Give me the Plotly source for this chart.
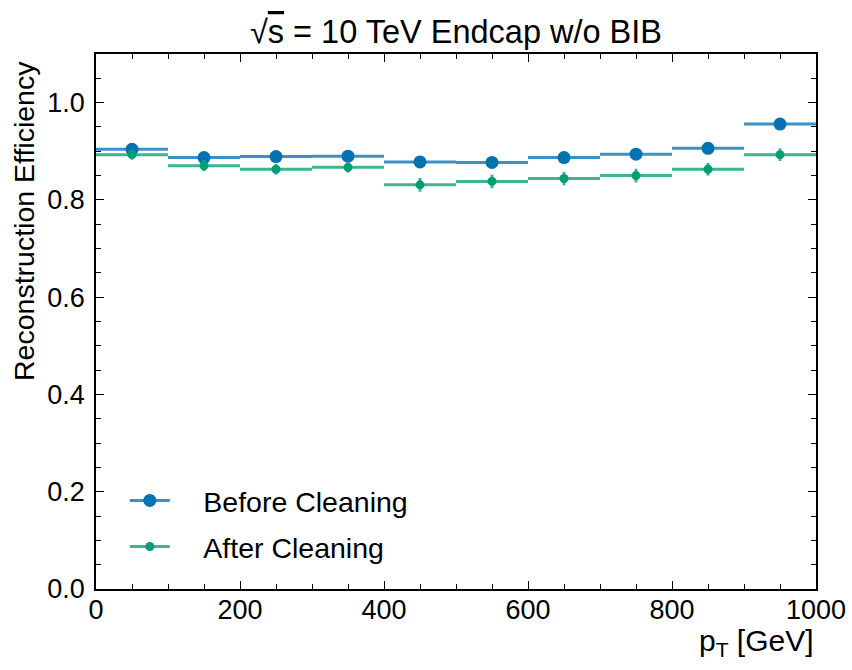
import plotly.graph_objects as go

# pT binning (GeV): bin centres and half-widths
pt_centres = [50, 150, 250, 350, 450, 550, 650, 750, 850, 950]
pt_halfwidth = [50] * 10

# Reconstruction efficiency per pT bin
eff_before = [0.904, 0.887, 0.889, 0.890, 0.878, 0.877, 0.887, 0.894, 0.906, 0.956]
err_before = [0.008, 0.008, 0.008, 0.008, 0.009, 0.009, 0.009, 0.009, 0.009, 0.008]
eff_after = [0.893, 0.870, 0.863, 0.867, 0.831, 0.838, 0.844, 0.850, 0.863, 0.893]
err_after = [0.010, 0.011, 0.011, 0.011, 0.014, 0.014, 0.014, 0.014, 0.013, 0.013]

series_names = ["Before Cleaning", "After Cleaning"]

BLUE = "#0173B2"
BLUE_BAR = "#3a90c8"
GREEN = "#029E73"
GREEN_BAR = "#3db58e"
FONT = "Liberation Sans, Arial, Helvetica, sans-serif"

fig = go.Figure()

for i, (name, y, ey, col, barcol, msize) in enumerate([
    (series_names[0], eff_before, err_before, BLUE, BLUE_BAR, 13),
    (series_names[1], eff_after, err_after, GREEN, GREEN_BAR, 9),
]):
    fig.add_trace(go.Scatter(
        x=pt_centres, y=y, mode="markers", showlegend=False,
        marker=dict(color=col, size=msize, line=dict(width=0)),
        error_x=dict(type="data", array=pt_halfwidth, color=barcol, thickness=3, width=0),
        error_y=dict(type="data", array=ey, color=barcol, thickness=3, width=0),
    ))
    # legend entry (em space widens the gap between symbol and label)
    fig.add_trace(go.Scatter(
        x=[None], y=[None], mode="lines+markers", name="\u2003" + name,
        legendgroup=f"g{i}",
        marker=dict(color=col, size=msize), line=dict(color=barcol, width=3),
    ))

axis_common = dict(
    showgrid=False, zeroline=False, showline=True, linecolor="black", linewidth=1.5,
    mirror="allticks", ticks="inside", ticklen=8, tickwidth=1.2, tickcolor="black",
    tickfont=dict(family=FONT, size=27, color="black"), automargin=False,
)

fig.update_xaxes(
    range=[0, 1000], tickvals=[0, 200, 400, 600, 800, 1000],
    minor=dict(ticks="inside", dtick=50, ticklen=5, tickwidth=1, tickcolor="black"),
    ticklabelstandoff=-4,
    **axis_common,
)
fig.update_yaxes(
    range=[0, 1.1], tickvals=[0, 0.2, 0.4, 0.6, 0.8, 1.0], tickformat=".1f",
    minor=dict(ticks="inside", dtick=0.05, ticklen=5, tickwidth=1, tickcolor="black"),
    ticklabelstandoff=4,
    **axis_common,
)

fig.update_layout(
    width=852, height=670,
    margin=dict(l=96, r=36, t=54, b=81),
    plot_bgcolor="white", paper_bgcolor="white",
    font=dict(family=FONT, color="black"),
    title=dict(
        text="\u221A<span style='text-decoration:overline'>s</span> = 10 TeV Endcap w/o BIB",
        x=0.5, xref="paper", xanchor="center", y=1, yref="paper", yanchor="bottom",
        pad=dict(b=11), font=dict(family=FONT, size=32.5, color="black"),
    ),
    legend=dict(
        x=0.04, y=0.031, xanchor="left", yanchor="bottom",
        bgcolor="rgba(0,0,0,0)", font=dict(family=FONT, size=28.5, color="black"),
        itemwidth=40, tracegroupgap=6,
    ),
    annotations=[
        dict(text="Reconstruction Efficiency", xref="paper", yref="paper",
             x=0, y=1, xanchor="center", yanchor="top", textangle=-90,
             xshift=-72, yshift=-5, showarrow=False,
             font=dict(family=FONT, size=28.5, color="black")),
        dict(text="p<sub>T</sub> [GeV]", xref="paper", yref="paper",
             x=1, y=0, xanchor="right", yanchor="top",
             yshift=-33, showarrow=False,
             font=dict(family=FONT, size=30, color="black")),
    ],
)

fig.write_html("out.html")
